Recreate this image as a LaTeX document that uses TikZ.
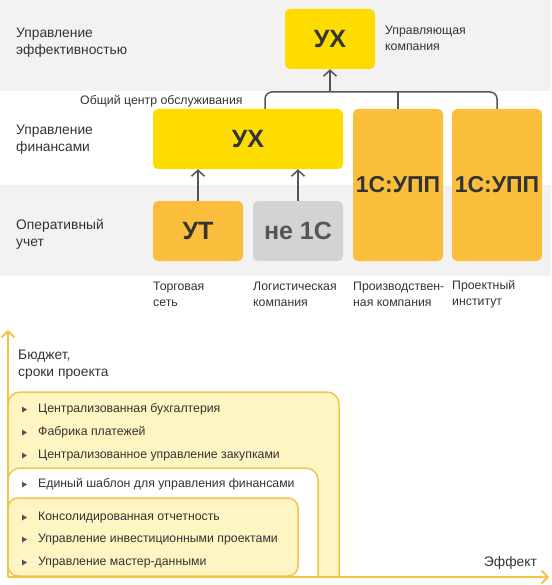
\documentclass[tikz,border=0pt]{standalone}
\usepackage{fontspec}
\setmainfont{Liberation Sans}
\usetikzlibrary{arrows.meta}
\definecolor{greyband}{HTML}{F2F2F2}
\definecolor{yel}{HTML}{FEDC00}
\definecolor{org}{HTML}{FBBD3C}
\definecolor{gbox}{HTML}{D3D3D3}
\definecolor{txt}{HTML}{333333}
\definecolor{ln}{HTML}{555555}
\definecolor{axc}{HTML}{F5C34B}
\definecolor{lyel}{HTML}{FFF5C2}
\begin{document}
\begin{tikzpicture}[x=1pt,y=-1pt,
  box/.style={rounded corners=5pt, minimum width=90pt, minimum height=60pt, inner sep=0pt,
    font=\fontsize{25}{25}\selectfont\bfseries, text=txt},
  lbl/.style={font=\fontsize{13.8}{17}\selectfont, text=txt, align=left, anchor=west, inner sep=0pt},
  sml/.style={font=\fontsize{12.3}{16}\selectfont, text=txt, align=left, anchor=west, inner sep=0pt},
  conn/.style={draw=ln, line width=1.5pt},
  tip/.style={-{Straight Barb[length=6pt,width=13pt,line width=1.5pt]}},
  axis/.style={draw=axc, line width=2pt},
  atip/.style={-{Straight Barb[length=6pt,width=13pt,line width=2pt]}},
  zone/.style={draw=axc, line width=1.5pt}
]
\useasboundingbox (0,0) rectangle (551,585);
% bands
\fill[greyband] (0,0) rectangle (551,91);
\fill[greyband] (0,185) rectangle (551,276);

% boxes
\node[box, fill=yel] (ux1) at (330,39) {УХ};
\node[box, fill=yel, minimum width=190pt] (ux2) at (248,139) {УХ};
\node[box, fill=org] (ut) at (198,231) {УТ};
\node[box, fill=gbox, text=ln] (ne) at (298,231) {не 1С};
\node[box, fill=org, minimum height=152pt, font=\fontsize{23}{23}\selectfont\bfseries] (upp1) at (398,185) {1С:УПП};
\node[box, fill=org, minimum height=152pt, font=\fontsize{23}{23}\selectfont\bfseries] (upp2) at (497,185) {1С:УПП};

% connectors
\coordinate (j) at (330,92);
\coordinate (a) at (265,92);
\draw[conn, rounded corners=7pt] (ux2.north -| a) |- (j) -| (upp2.north);
\draw[conn] (j -| upp1.north) -- (upp1.north);
\draw[conn, tip] (j) -- (ux1.south);
\draw[conn, tip] (ut.north) -- (ut.north |- ux2.south);
\draw[conn, tip] (ne.north) -- (ne.north |- ux2.south);

% left labels
\node[lbl] (l1) at (16,43) {Управление\\эффективностью};
\node[lbl] (l2) at (16,140) {Управление\\финансами};
\node[lbl] (l3) at (16,234.5) {Оперативный\\учет};
\node[sml] (uk) at (385,38.5) {Управляющая\\компания};
\node[sml] (ocs) at (80,101) {Общий центр обслуживания};
\node[sml] (c1) at (153,294) {Торговая\\сеть};
\node[sml] (c2) at (253,294) {Логистическая\\компания};
\node[sml] (c3) at (353,294) {Производствен-\\ная компания};
\node[sml] (c4) at (452,294) {Проектный\\институт};

% bottom chart
\draw[zone, fill=lyel, rounded corners=12pt] (8,577) |- (339,392) -- (339,577);
\draw[zone, fill=white, rounded corners=12pt] (8,577) |- (318,468) -- (318,577);
\draw[zone, fill=lyel, rounded corners=10pt] (8,498) rectangle (298,576);

\coordinate (o) at (8,577);
\coordinate (yend) at (8,330);
\coordinate (xend) at (549,577);
\draw[axis, atip] (o) -- (yend);
\draw[axis, atip] (o) -- (xend);

\node[lbl] (bud) at (18,365) {Бюджет,\\сроки проекта};
\node[lbl, anchor=east] (eff) at (537,563) {Эффект};

\foreach \yy/\t in {409.5/Централизованная бухгалтерия, 432.5/Фабрика платежей, 455.5/Централизованное управление закупками, 484.5/Единый шаблон для управления финансами, 517.5/Консолидированная отчетность, 539.5/Управление инвестиционными проектами, 562.5/Управление мастер-данными}{
  \fill[ln] (22,\yy-3) -- (27,\yy) -- (22,\yy+3) -- cycle;
  \node[sml] at (38,\yy) {\t};
}
\end{tikzpicture}
\end{document}
